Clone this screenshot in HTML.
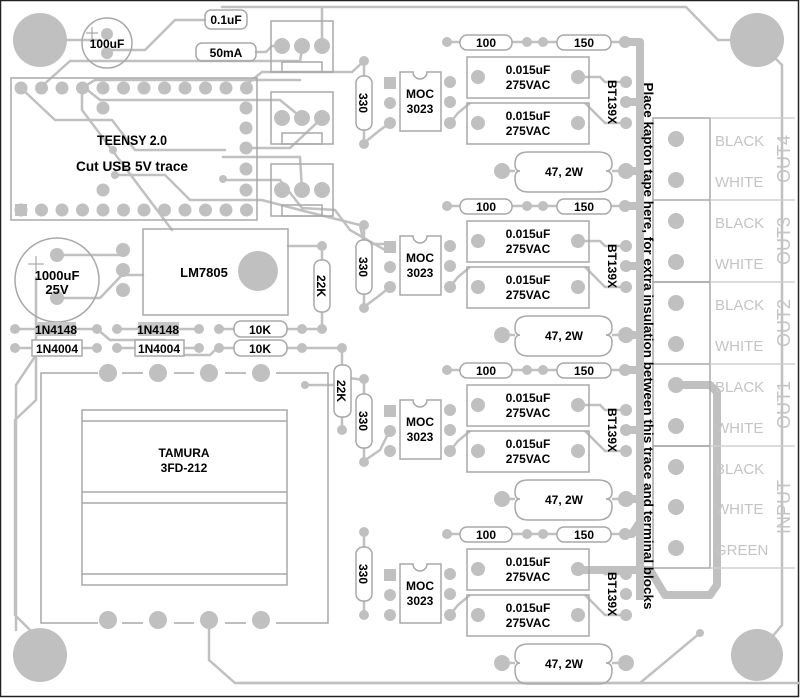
<!DOCTYPE html>
<html><head><meta charset="utf-8"><style>
html,body{margin:0;padding:0;background:#fff}
svg{display:block}
text{font-family:"Liberation Sans",sans-serif;font-weight:bold}
</style></head><body>
<svg width="800" height="698" viewBox="0 0 800 698" xmlns="http://www.w3.org/2000/svg">
<rect x="0.5" y="0.5" width="798" height="696" fill="#fff" stroke="#222" stroke-width="1.5"/>
<g fill="none" stroke="#c0c0c0" stroke-width="2.5" stroke-linecap="round">
<polyline points="222,7 686,7 718,40 757,40"/>
<polyline points="322,7 322,46"/>
<polyline points="757,40 782,65 782,625 757,655"/>
<polyline points="40,40 100,40"/>
<polyline points="107,50 145,50 175,20 205,20"/>
<polyline points="256,52 266,52 272,46 282,46"/>
<polyline points="70,61 240,61 300,61 302,50"/>
<polyline points="40,88 70,61"/>
<polyline points="242,88 262,72 352,72 364,61"/>
<polyline points="21,88 55,120 112,120 135,150 225,150"/>
<polyline points="82,88 95,80 300,80"/>
<polyline points="85,88 100,100 280,100 302,118"/>
<polyline points="322,118 290,148 250,148"/>
<polyline points="82,88 82,110 172,230"/>
<polyline points="223,157 250,157 300,157 302,190"/>
<polyline points="115,175 165,175 190,200 262,200 300,210 360,225 364,244"/>
<polyline points="225,180 280,180 302,208 335,210 350,230 385,250"/>
<polyline points="364,244 390,244"/>
<polyline points="57,255 123,255"/>
<polyline points="57,298 100,298 122,275"/>
<polyline points="123,275 143,275"/>
<polyline points="288,246 322,246 322,329"/>
<polyline points="36,278 36,400 15,420 15,615 40,640"/>
<polyline points="15,329 97,329"/><polyline points="117,329 199,329"/><polyline points="219,329 302,329 322,329"/>
<polyline points="15,348 97,348"/><polyline points="117,348 199,348"/><polyline points="219,348 342,348"/>
<polyline points="97,329 110,340 165,340 172,355 210,355 220,345"/>
<polyline points="36,355 16,385 16,630"/>
<polyline points="342,348 342,430"/>
<polyline points="305,385 335,385 342,377"/>
<polyline points="342,377 364,380"/>
<polyline points="209,620 209,660 235,683 800,683"/>
<polyline points="240,683 640,683 700,633"/>
<polyline points="364,461 380,450 390,430"/>
<polyline points="364,143 380,130 390,123"/>
<polyline points="364,307 380,295 390,287"/>
</g>
<g fill="none" stroke="#c0c0c0" stroke-width="8" stroke-linejoin="round">
<polyline points="625,42 640,42 640,600"/>
<polyline points="625,206 640,206"/><polyline points="625,370 640,370"/><polyline points="625,534 632,534 640,522"/>
<polyline points="626,171 640,171"/><polyline points="626,335 640,335"/><polyline points="626,499 640,499"/>
<polyline points="626,102 640,102"/><polyline points="626,266 640,266"/><polyline points="626,430 640,430"/>
<polyline points="578,570 650,570 665,595 710,595 717,585 717,392 710,385 676,385"/>
</g>
<g fill="#c0c0c0">
<circle cx="40" cy="40" r="27"/><circle cx="757" cy="40" r="27"/>
<circle cx="40" cy="655" r="27"/><circle cx="757" cy="655" r="26"/>
</g>
<g fill="none" stroke="#a8a8a8" stroke-width="1.5">
<circle cx="107" cy="43" r="25"/>
<circle cx="57" cy="280" r="42"/>
<rect x="205" y="10" width="42" height="19" rx="6"/>
<rect x="196" y="43" width="60" height="18" rx="6"/>
<rect x="271" y="21" width="62" height="51"/><rect x="282" y="62" width="40" height="10"/>
<rect x="271" y="92" width="62" height="52"/><rect x="282" y="133" width="40" height="11"/>
<rect x="271" y="164" width="62" height="52"/><rect x="282" y="205" width="40" height="11"/>
<rect x="11" y="78" width="246" height="142"/>
<rect x="143" y="229" width="145" height="86"/>
<rect x="234" y="321" width="53" height="16" rx="7" fill="#fff"/>
<rect x="234" y="340" width="53" height="16" rx="7" fill="#fff"/>
<rect x="32" y="340" width="50" height="16" fill="#fff"/>
<rect x="135" y="340" width="49" height="16" fill="#fff"/>
<polyline points="98,373 41,373 41,623 98,623"/><line x1="122" y1="373" x2="143" y2="373"/><line x1="174" y1="373" x2="194" y2="373"/><line x1="225" y1="373" x2="246" y2="373"/><polyline points="276,373 328,373 328,623 276,623"/>
<line x1="122" y1="623" x2="143" y2="623"/><line x1="174" y1="623" x2="194" y2="623"/><line x1="225" y1="623" x2="246" y2="623"/>
<rect x="82" y="410" width="205" height="175"/>
<line x1="82" y1="421" x2="287" y2="421"/><line x1="82" y1="492" x2="287" y2="492"/><line x1="82" y1="503" x2="287" y2="503"/><line x1="82" y1="574" x2="287" y2="574"/>
<rect x="653" y="118" width="57" height="164"/><rect x="653" y="282" width="57" height="164"/>
<rect x="653" y="446" width="57" height="122"/>
<line x1="653" y1="200" x2="710" y2="200"/><line x1="653" y1="364" x2="710" y2="364"/>
<g stroke="#d0d0d0"><line x1="710" y1="118" x2="795" y2="118"/><line x1="710" y1="200" x2="795" y2="200"/><line x1="710" y1="282" x2="795" y2="282"/><line x1="710" y1="364" x2="795" y2="364"/><line x1="710" y1="446" x2="795" y2="446"/><line x1="710" y1="568" x2="795" y2="568"/></g>
</g>
<g fill="#c0c0c0">
<circle cx="107" cy="34" r="6"/><circle cx="107" cy="53" r="6"/>
<circle cx="282" cy="46" r="8"/><circle cx="302" cy="46" r="8"/><circle cx="322" cy="46" r="8"/>
<circle cx="282" cy="118" r="8"/><circle cx="302" cy="118" r="8"/><circle cx="322" cy="118" r="8"/>
<circle cx="282" cy="190" r="8"/><circle cx="302" cy="190" r="8"/><circle cx="322" cy="190" r="8"/>
<g id="tp"><circle cx="21" cy="88" r="6.5"/><circle cx="41.5" cy="88" r="6.5"/><circle cx="62" cy="88" r="6.5"/><circle cx="82.5" cy="88" r="6.5"/><circle cx="103" cy="88" r="6.5"/><circle cx="123.5" cy="88" r="6.5"/><circle cx="144" cy="88" r="6.5"/><circle cx="164.5" cy="88" r="6.5"/><circle cx="185" cy="88" r="6.5"/><circle cx="205.5" cy="88" r="6.5"/><circle cx="226" cy="88" r="6.5"/><circle cx="246.5" cy="88" r="6.5"/></g>
<use href="#tp" y="122"/>
<rect x="15" y="204" width="12" height="12" fill="#fff"/><rect x="15" y="204" width="12" height="12"/>
<circle cx="246" cy="108" r="6.5"/><circle cx="246" cy="128" r="6.5"/><circle cx="246" cy="148" r="6.5"/><circle cx="246" cy="169" r="6.5"/><circle cx="246" cy="190" r="6.5"/>
<circle cx="103" cy="108" r="6.5"/><circle cx="103" cy="190" r="6.5"/><circle cx="113" cy="150" r="4"/><circle cx="115" cy="175" r="4"/><circle cx="223" cy="179" r="4"/>
<circle cx="123" cy="250" r="7"/><circle cx="123" cy="270" r="7"/><circle cx="123" cy="290" r="7"/>
<circle cx="57" cy="255" r="7"/><circle cx="57" cy="298" r="7"/>
<circle cx="258" cy="271" r="20"/>
<circle cx="322" cy="246" r="5"/><circle cx="322" cy="329" r="5"/>
<circle cx="342" cy="348" r="5"/><circle cx="342" cy="430" r="5"/><circle cx="305" cy="385" r="4"/>
<circle cx="15" cy="329" r="5"/><circle cx="97" cy="329" r="5"/><circle cx="117" cy="329" r="5"/><circle cx="199" cy="329" r="5"/><circle cx="219" cy="329" r="5"/><circle cx="302" cy="329" r="5"/>
<circle cx="15" cy="348" r="5"/><circle cx="97" cy="348" r="5"/><circle cx="117" cy="348" r="5"/><circle cx="199" cy="348" r="5"/><circle cx="219" cy="348" r="5"/><circle cx="302" cy="348" r="5"/>
<circle cx="108" cy="373" r="9"/><circle cx="158" cy="373" r="9"/><circle cx="209" cy="373" r="9"/><circle cx="261" cy="373" r="9"/>
<circle cx="108" cy="620" r="9"/><circle cx="158" cy="620" r="9"/><circle cx="209" cy="620" r="9"/><circle cx="261" cy="620" r="9"/>
<circle cx="700" cy="633" r="4"/>
<circle cx="676" cy="139" r="8"/><circle cx="676" cy="180" r="8"/><circle cx="676" cy="221" r="8"/><circle cx="676" cy="262" r="8"/><circle cx="676" cy="303" r="8"/><circle cx="676" cy="344" r="8"/><circle cx="676" cy="385" r="8"/><circle cx="676" cy="426" r="8"/><circle cx="676" cy="467" r="8"/><circle cx="676" cy="507" r="8"/><circle cx="676" cy="548" r="8"/>
</g>
<defs>
<g id="ch">
<g fill="none" stroke="#c0c0c0" stroke-width="2.5">
<line x1="447" y1="42" x2="460" y2="42"/><line x1="512" y1="42" x2="557" y2="42"/><line x1="611" y1="42" x2="625" y2="42"/>
<polyline points="578,77 600,77 605,82 626,82"/>
<polyline points="450,123 458,113 470,103"/>
<polyline points="585,103 605,123 626,123"/>
<line x1="502" y1="171" x2="515" y2="171"/><line x1="612" y1="171" x2="626" y2="171"/>
</g>
<g fill="none" stroke="#a8a8a8" stroke-width="1.5">
<rect x="460" y="35" width="52" height="15" rx="7"/>
<rect x="557" y="35" width="54" height="15" rx="7"/>
<rect x="467" y="57" width="122" height="41"/>
<rect x="467" y="103" width="122" height="41"/>
<path d="M400,72 H413 A7,7 0 0 0 427,72 H441 V131 H400 Z" fill="#fff"/>
<path d="M528,152 H598 Q612,152 612,164 Q612,171 606,171 Q612,171 612,178 Q612,192 598,192 H528 Q515,192 515,178 Q515,171 520,171 Q515,171 515,164 Q515,152 528,152 Z"/>
</g>
<g fill="#c0c0c0">
<circle cx="447" cy="42" r="5"/><circle cx="527" cy="42" r="5"/><circle cx="543" cy="42" r="5"/><circle cx="625" cy="42" r="6"/>
<circle cx="478" cy="77" r="7"/><circle cx="578" cy="77" r="7"/><circle cx="478" cy="123" r="7"/><circle cx="578" cy="123" r="7"/>
<rect x="384" y="77" width="12" height="12"/><circle cx="390" cy="103" r="6"/><circle cx="390" cy="123" r="6"/>
<circle cx="450" cy="82" r="6"/><circle cx="450" cy="102" r="6"/><circle cx="450" cy="123" r="6"/>
<circle cx="626" cy="82" r="6"/><circle cx="626" cy="102" r="6"/><circle cx="626" cy="123" r="6"/>
<circle cx="502" cy="171" r="8"/><circle cx="626" cy="171" r="8"/>
</g>
<g font-size="12" fill="#000" text-anchor="middle">
<text x="486" y="47">100</text><text x="584" y="47">150</text>
<text x="528" y="74">0.015uF</text><text x="528" y="89">275VAC</text>
<text x="528" y="120">0.015uF</text><text x="528" y="135">275VAC</text>
<text x="420" y="98">MOC</text><text x="420" y="113">3023</text>
<text x="564" y="176">47, 2W</text>
<text transform="translate(608,102) rotate(90)">BT139X</text>
</g>
</g>
<g id="r330">
<line x1="364" y1="61" x2="364" y2="144" stroke="#c0c0c0" stroke-width="2.5"/>
<rect x="356" y="76" width="16" height="54" rx="7" fill="#fff" stroke="#a8a8a8" stroke-width="1.5"/>
<circle cx="364" cy="61" r="5" fill="#c0c0c0"/><circle cx="364" cy="144" r="5" fill="#c0c0c0"/>
<text transform="translate(359,103) rotate(90)" font-size="12" text-anchor="middle">330</text>
</g>
</defs>
<use href="#ch"/><use href="#ch" y="164"/><use href="#ch" y="328"/><use href="#ch" y="492"/>
<use href="#r330"/><use href="#r330" y="164"/><use href="#r330" y="318"/><use href="#r330" y="471"/>
<rect x="314" y="260" width="16" height="52" rx="7" fill="#fff" stroke="#a8a8a8" stroke-width="1.5"/>
<rect x="334" y="365" width="17" height="52" rx="7" fill="#fff" stroke="#a8a8a8" stroke-width="1.5"/>
<rect x="36" y="322" width="40" height="14" fill="#c8c8c8"/>
<rect x="138" y="322" width="41" height="14" fill="#c8c8c8"/>
<g font-size="12" fill="#000" text-anchor="middle">
<text x="226" y="24">0.1uF</text>
<text x="226" y="57">50mA</text>
<text x="107" y="48">100uF</text>
<text x="132" y="145" font-size="14" textLength="70" lengthAdjust="spacingAndGlyphs">TEENSY 2.0</text>
<text x="132" y="171" font-size="14" textLength="112" lengthAdjust="spacingAndGlyphs">Cut USB 5V trace</text>
<text x="204" y="277" font-size="13">LM7805</text>
<text x="57" y="280" font-size="13">1000uF</text><text x="57" y="294" font-size="13">25V</text>
<text transform="translate(317,286) rotate(90)">22K</text>
<text transform="translate(337,391) rotate(90)">22K</text>
<text x="56" y="334">1N4148</text><text x="158" y="334">1N4148</text>
<text x="57" y="353">1N4004</text><text x="159" y="353">1N4004</text>
<text x="260" y="334">10K</text><text x="260" y="353">10K</text>
<text x="184" y="457">TAMURA</text><text x="184" y="472">3FD-212</text>
<text transform="translate(644,346) rotate(90)" font-size="12.5" textLength="527" lengthAdjust="spacingAndGlyphs">Place kapton tape here, for extra insulation between this trace and terminal blocks</text>
</g>
<line x1="92" y1="27" x2="92" y2="39" stroke="#a8a8a8" stroke-width="1.2"/><line x1="86" y1="33" x2="98" y2="33" stroke="#a8a8a8" stroke-width="1.2"/>
<line x1="36" y1="256" x2="36" y2="272" stroke="#a8a8a8" stroke-width="1.2"/><line x1="28" y1="264" x2="44" y2="264" stroke="#a8a8a8" stroke-width="1.2"/>
<g font-size="15" fill="#c4c4c4">
<text x="715" y="146" style="font-weight:normal">BLACK</text><text x="715" y="187" style="font-weight:normal">WHITE</text>
<text x="715" y="228" style="font-weight:normal">BLACK</text><text x="715" y="269" style="font-weight:normal">WHITE</text>
<text x="715" y="310" style="font-weight:normal">BLACK</text><text x="715" y="351" style="font-weight:normal">WHITE</text>
<text x="715" y="392" style="font-weight:normal">BLACK</text><text x="715" y="433" style="font-weight:normal">WHITE</text>
<text x="715" y="474" style="font-weight:normal">BLACK</text><text x="715" y="514" style="font-weight:normal">WHITE</text>
<text x="715" y="555" style="font-weight:normal">GREEN</text>
<g font-size="18" text-anchor="middle">
<text transform="translate(790,159) rotate(-90)" style="font-weight:normal">OUT4</text>
<text transform="translate(790,241) rotate(-90)" style="font-weight:normal">OUT3</text>
<text transform="translate(790,323) rotate(-90)" style="font-weight:normal">OUT2</text>
<text transform="translate(790,405) rotate(-90)" style="font-weight:normal">OUT1</text>
<text transform="translate(790,507) rotate(-90)" style="font-weight:normal">INPUT</text>
</g>
</g>
</svg>
</body></html>
